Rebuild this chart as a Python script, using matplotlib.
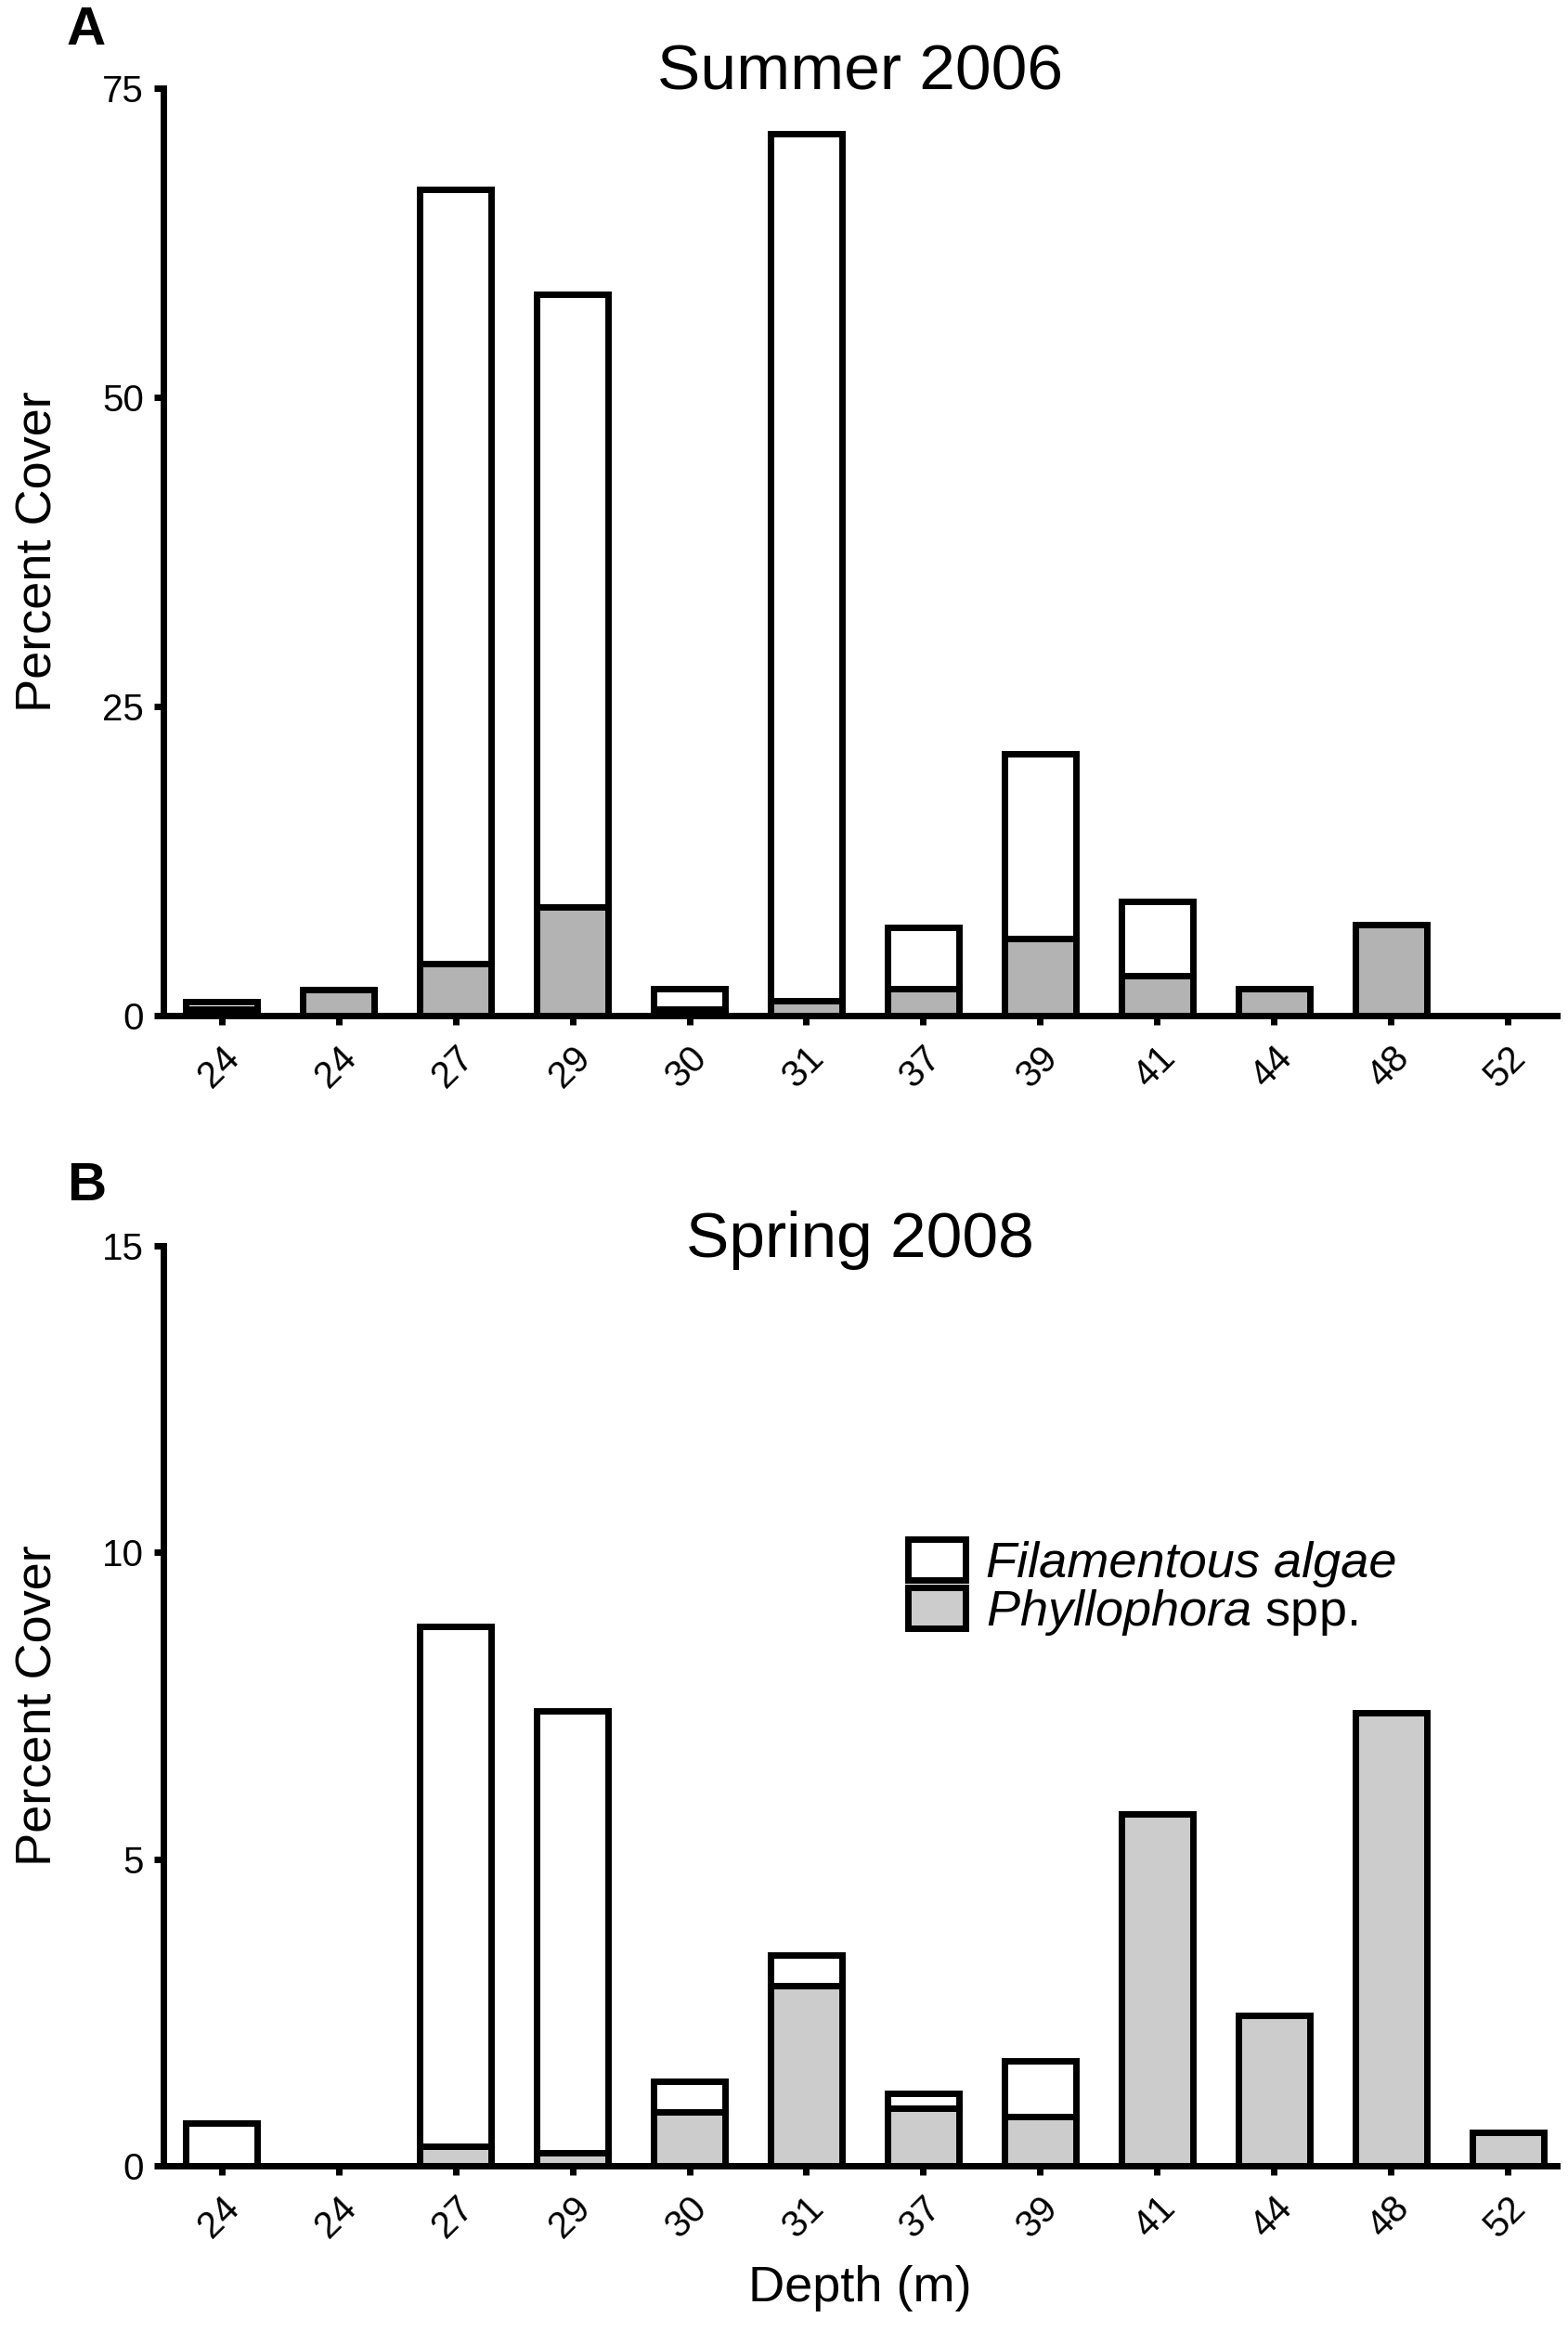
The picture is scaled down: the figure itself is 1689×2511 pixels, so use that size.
import numpy as np
import matplotlib
matplotlib.use('Agg')
from matplotlib import pyplot as plt
from matplotlib.patches import Patch
from matplotlib.transforms import ScaledTranslation

plt.rcParams['font.family'] = ['Liberation Sans', 'DejaVu Sans']
plt.rcParams['mathtext.fontset'] = 'custom'
plt.rcParams['mathtext.rm'] = 'Liberation Sans'
plt.rcParams['mathtext.it'] = 'Liberation Sans:italic'

depths = ['24', '24', '27', '29', '30', '31', '37', '39', '41', '44', '48', '52']

# Summer 2006: Phyllophora (bottom) and total cover
phyllo_2006 = [0.5, 2.1, 4.2, 8.75, 0.5, 1.2, 2.2, 6.2, 3.2, 2.2, 7.35, 0.0]
total_2006 = [1.1, 2.1, 66.8, 58.3, 2.2, 71.3, 7.1, 21.2, 9.25, 2.2, 7.35, 0.0]

# Spring 2008
phyllo_2008 = [0.0, 0.0, 0.31, 0.21, 0.88, 2.93, 0.94, 0.80, 5.74, 2.45, 7.38, 0.55]
total_2008 = [0.69, 0.0, 8.79, 7.41, 1.38, 3.44, 1.18, 1.71, 5.74, 2.45, 7.38, 0.55]

LW = 5


def draw_panel(fig, ax, phyllo, total, gray, ymax, yticks, title, title_y):
    x = np.arange(len(depths))
    fila = np.array(total) - np.array(phyllo)
    ax.bar(x, phyllo, width=0.61, color=gray, edgecolor='black', linewidth=LW, zorder=2)
    ax.bar(x, fila, width=0.61, bottom=phyllo, color='white', edgecolor='black',
           linewidth=LW, zorder=2)
    ax.set_xlim(-0.5, 11.42)
    ax.set_ylim(0, ymax)
    ax.set_yticks(yticks)
    ax.set_xticks(x)
    ax.set_xticklabels(depths, rotation=45, ha='right', va='top',
                       rotation_mode='anchor')
    # nudge the rotated labels a little to the left of their ticks
    shift = ScaledTranslation(-5 / 72, 0, fig.dpi_scale_trans)
    for lbl in ax.get_xticklabels():
        lbl.set_transform(lbl.get_transform() + shift)
    for s in ['top', 'right']:
        ax.spines[s].set_visible(False)
    for s in ['left', 'bottom']:
        ax.spines[s].set_linewidth(LW)
        ax.spines[s].set_zorder(3)
    ax.tick_params(axis='both', width=LW, length=7, labelsize=29, pad=8)
    ax.tick_params(axis='x', pad=12)
    ax.set_ylabel('Percent Cover', fontsize=39)
    ax.yaxis.set_label_coords(-0.0726, 0.5)
    ax.text(0.5, title_y, title, transform=ax.transAxes, ha='center',
            va='baseline', fontsize=50)


fig = plt.figure(figsize=(16.89, 25.11), dpi=100)
ax1 = fig.add_axes([0.104, 0.5643, 0.889, 0.398])
ax2 = fig.add_axes([0.104, 0.0709, 0.889, 0.3947])

draw_panel(fig, ax1, phyllo_2006, total_2006, '#b3b3b3', 75, [0, 25, 50, 75],
           'Summer 2006', 0.998)
draw_panel(fig, ax2, phyllo_2008, total_2008, '#cccccc', 15, [0, 5, 10, 15],
           'Spring 2008', 0.988)

ax2.set_xlabel('Depth (m)', fontsize=39)
ax2.xaxis.set_label_coords(0.5, -0.108)

handles = [Patch(facecolor='white', edgecolor='black', linewidth=LW),
           Patch(facecolor='#cccccc', edgecolor='black', linewidth=LW)]
leg = ax2.legend(handles, ['Filamentous algae', r'$\it{Phyllophora}$ spp.'],
                 loc='upper left', bbox_to_anchor=(0.52, 0.703), frameon=False,
                 fontsize=39, handlelength=1.15, handleheight=0.88,
                 labelspacing=0.0, handletextpad=0.4, borderaxespad=0)
leg.get_texts()[0].set_style('italic')

fig.text(0.0426, 0.981, 'A', fontsize=42, fontweight='bold', va='baseline')
fig.text(0.0426, 0.485, 'B', fontsize=42, fontweight='bold', va='baseline')

fig.savefig('out.png', dpi=100)
